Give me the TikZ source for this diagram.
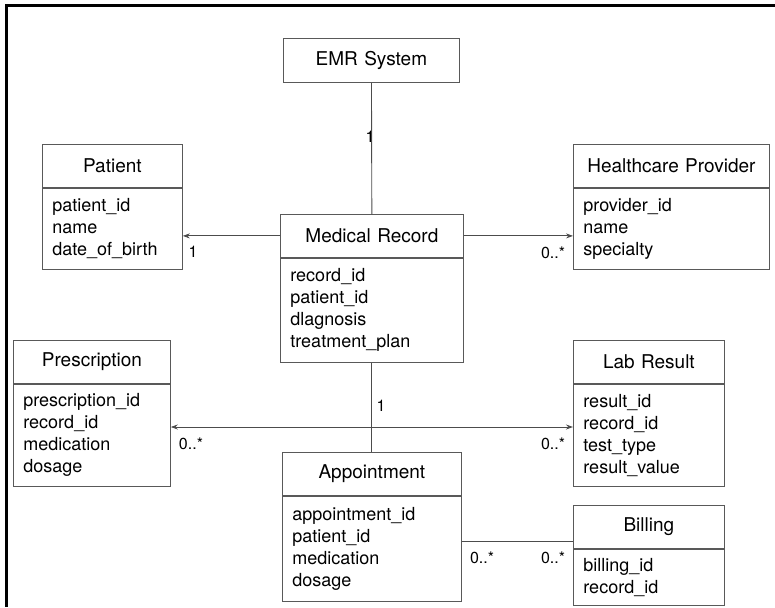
\documentclass[tikz,border=0pt]{standalone}
\usepackage{fontspec}
\setmainfont{TeX Gyre Heros}
\usetikzlibrary{arrows.meta}
\tikzset{
  cls head/.style={
    draw=black!65,line width=0.8pt,anchor=north west,align=center,
    inner sep=0pt,font=\fontsize{19}{22}\selectfont
  },
  cls body/.style={
    draw=black!65,line width=0.8pt,anchor=north west,align=left,
    inner xsep=10pt,inner ysep=0pt,font=\fontsize{18}{22}\selectfont
  },
  cls link/.style={black!70,line width=0.9pt},
  cls tip/.style={-{Stealth[length=7pt,width=5pt]}},
  cls mult/.style={inner sep=0pt,font=\fontsize{16}{18}\selectfont}
}
\newcommand{\umlclass}[6]{% name, corner, width, title, body height, fields
  \pgfmathsetmacro\clsw{#3-20}
  \node[cls head,text width=#3pt,minimum height=43pt] (#1) at (#2) {#4};
  \node[cls body,text width=\clsw pt,minimum height=#5pt] (#1-a) at (#1.south west) {#6};
}

\begin{document}
\begin{tikzpicture}[x=1pt,y=-1pt]
  \useasboundingbox (0,0) rectangle (775,607);
  \draw[line width=3pt] (775,5.5) -- (6.5,5.5) -- (6.5,607);

  \node[cls head,text width=176pt,minimum height=44pt] (emr) at (283,38) {EMR System};
  \umlclass{patient}{42,144}{140}{Patient}{81}{patient\_id\\name\\date\_of\_birth}
  \umlclass{record}{280,214}{183}{Medical Record}{104}{record\_id\\patient\_id\\dlagnosis\\treatment\_plan}
  \umlclass{provider}{573,144}{196}{Healthcare Provider}{81}{provider\_id\\name\\specialty}
  \umlclass{prescr}{13,340}{157}{Prescription}{102}{prescription\_id\\record\_id\\medication\\dosage}
  \umlclass{labres}{573,340}{151}{Lab Result}{102}{result\_id\\record\_id\\test\_type\\result\_value}
  \umlclass{appt}{282,452}{179}{Appointment}{105}{appointment\_id\\patient\_id\\medication\\dosage}
  \umlclass{billing}{573,505}{151}{Billing}{56}{billing\_id\\record\_id}

  \coordinate (rx) at (371,427);
  \coordinate (bx) at (470,541);

  \draw[cls link] (emr) -- (record);
  \draw[cls link,cls tip] (record) -- (record -| patient-a.east);
  \draw[cls link,cls tip] (record) -- (record -| provider-a.west);
  \draw[cls link] (record-a) -- (appt);
  \draw[cls link,{Stealth[length=7pt,width=5pt]}-{Stealth[length=7pt,width=5pt]}]
    (prescr-a.east |- rx) -- (labres-a.west |- rx);
  \draw[cls link] (appt-a.east |- bx) -- (billing.west |- bx);

  \node[cls mult] (m1) at (370,137) {1};
  \node[cls mult] (m2) at (193,252) {1};
  \node[cls mult] (m3) at (553,253) {0..*};
  \node[cls mult] (m4) at (381,406) {1};
  \node[cls mult] (m5) at (191,444) {0..*};
  \node[cls mult] (m6) at (553,444) {0..*};
  \node[cls mult] (m7) at (482,558) {0..*};
  \node[cls mult] (m8) at (553,558) {0..*};
\end{tikzpicture}
\end{document}
